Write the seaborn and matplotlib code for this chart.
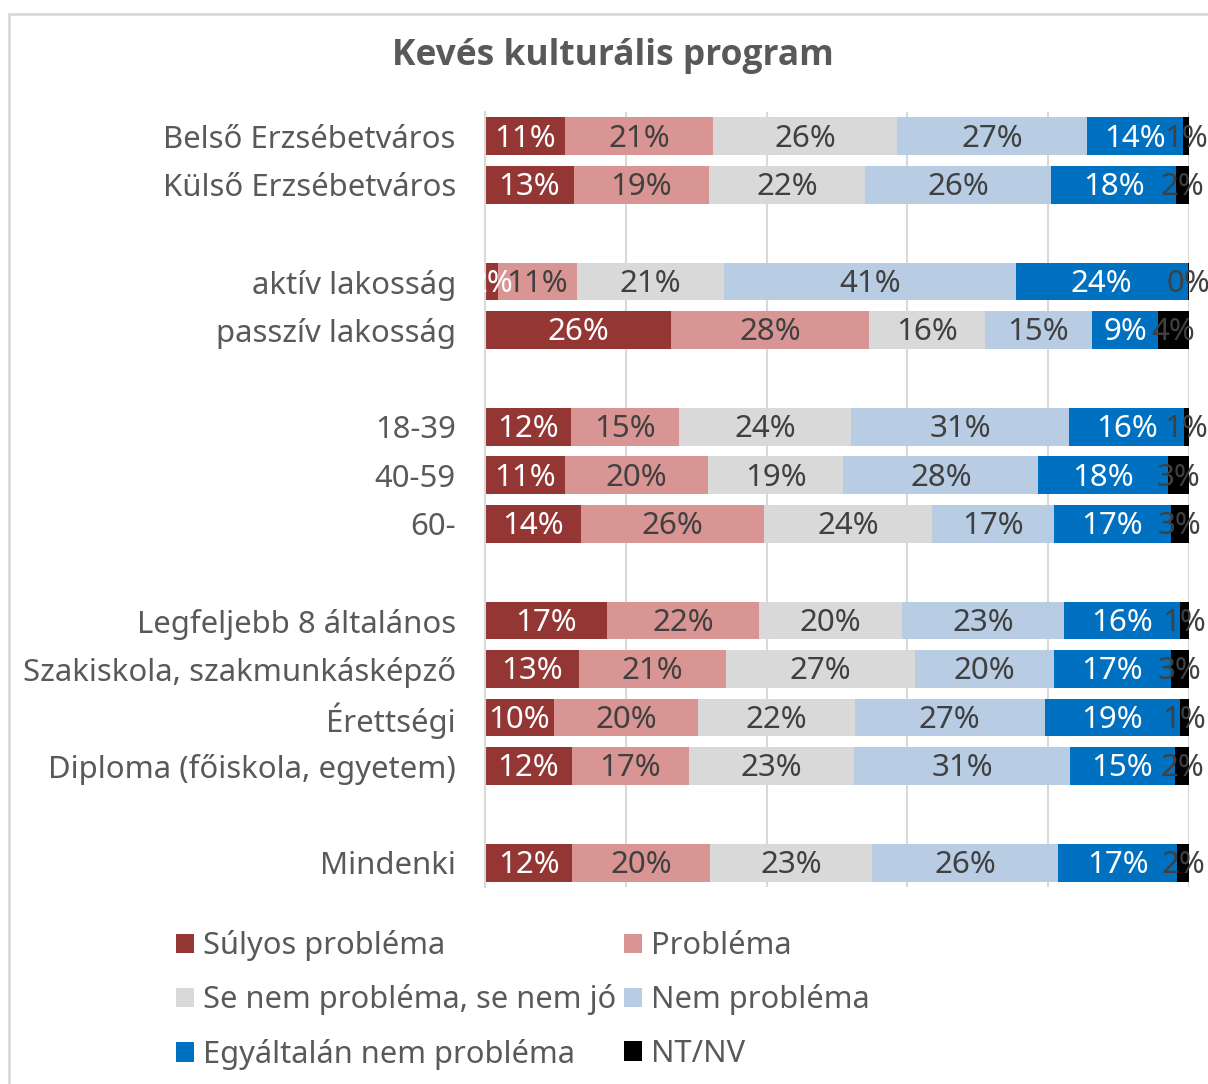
import numpy as np
import pandas as pd
import matplotlib
matplotlib.use("Agg")
import matplotlib.pyplot as plt
import seaborn as sns
from matplotlib.patches import Patch, Rectangle

# ---------------- data ----------------
categories = ["Belső Erzsébetváros", "Külső Erzsébetváros",
              "aktív lakosság", "passzív lakosság",
              "18-39", "40-59", "60-",
              "Legfeljebb 8 általános", "Szakiskola, szakmunkásképző",
              "Érettségi", "Diploma (főiskola, egyetem)",
              "Mindenki"]
series_names = ["Súlyos probléma", "Probléma", "Se nem probléma, se nem jó",
                "Nem probléma", "Egyáltalán nem probléma", "NT/NV"]

sulyos     = [11.4, 12.6, 1.8, 26.4, 12.2, 11.4, 13.6, 17.3, 13.3, 9.8, 12.3, 12.4]
problema   = [21.0, 19.2, 11.2, 28.2, 15.4, 20.3, 26.0, 21.6, 21.0, 20.5, 16.7, 19.5]
se_nem     = [26.1, 22.2, 21.0, 16.4, 24.4, 19.2, 23.9, 20.3, 26.8, 22.2, 23.4, 23.1]
nem_prob   = [27.0, 26.4, 41.4, 15.2, 31.0, 27.7, 17.3, 23.1, 19.7, 27.0, 30.7, 26.4]
egyaltalan = [13.6, 17.8, 24.4, 9.4, 16.3, 18.4, 16.6, 16.4, 16.6, 19.2, 14.9, 16.9]
ntnv       = [0.9, 1.8, 0.2, 4.4, 0.7, 3.0, 2.6, 1.3, 2.6, 1.3, 2.0, 1.7]

# display order with blank spacer rows between groups
order = ["Belső Erzsébetváros", "Külső Erzsébetváros", " ",
         "aktív lakosság", "passzív lakosság", "  ",
         "18-39", "40-59", "60-", "   ",
         "Legfeljebb 8 általános", "Szakiskola, szakmunkásképző",
         "Érettségi", "Diploma (főiskola, egyetem)", "    ",
         "Mindenki"]

colors = ["#943634", "#D99594", "#D9D9D9", "#B8CCE4", "#0070C0", "#000000"]
label_colors = ["white", "#404040", "#404040", "#404040", "white", "#404040"]

df = pd.DataFrame({"Kategória": categories,
                   series_names[0]: sulyos,
                   series_names[1]: problema,
                   series_names[2]: se_nem,
                   series_names[3]: nem_prob,
                   series_names[4]: egyaltalan,
                   series_names[5]: ntnv})
totals = df[series_names].sum(axis=1)
frac = df[series_names].div(totals, axis=0)
cum = frac.cumsum(axis=1)
for s in series_names:
    df["cum_" + s] = cum[s]

# ---------------- style ----------------
sns.set_theme(style="white")
plt.rcParams["font.family"] = ["Noto Sans", "DejaVu Sans"]
text_gray = "#595959"

W, H = 1208, 1084
fig = plt.figure(figsize=(W / 100, H / 100), dpi=100)
ax = fig.add_axes([485 / W, 1 - 887 / H, (1189 - 485) / W, (887 - 112) / H])

for s, c in reversed(list(zip(series_names, colors))):
    sns.barplot(data=df, x="cum_" + s, y="Kategória", order=order, orient="h",
                color=c, saturation=1, width=0.78, linewidth=0,
                errorbar=None, ax=ax)

# data labels
for i, cat in enumerate(categories):
    ypos = order.index(cat)
    for j, s in enumerate(series_names):
        v = df.loc[i, s]
        center = cum.loc[i, s] - frac.loc[i, s] / 2
        ax.text(center, ypos + 0.05, f"{round(v):d}%", ha="center", va="center",
                fontsize=22.5, color=label_colors[j])

ax.set_xlim(0, 1)
ax.set_ylim(len(order) - 0.5, -0.5)
ax.set_xlabel("")
ax.set_ylabel("")
ax.set_xticks([0, 0.2, 0.4, 0.6, 0.8, 1.0])
ax.set_xticklabels([])
ax.tick_params(axis="x", length=0)
ax.tick_params(axis="y", length=0, pad=21, labelsize=22.4, labelcolor=text_gray)
ax.xaxis.grid(True, color="#D9D9D9", linewidth=1.5)
ax.yaxis.grid(False)
ax.set_axisbelow(True)
for sp in ["top", "right", "bottom"]:
    ax.spines[sp].set_visible(False)
ax.spines["left"].set_color("#D9D9D9")
ax.spines["left"].set_linewidth(1.5)

# title
fig.text(613 / W, 1 - 56 / H, "Kevés kulturális program", ha="center", va="center",
         fontsize=25.5, fontweight="bold", color=text_gray,
         family=["Open Sans", "DejaVu Sans"])

# legend (column-major: col 1 then col 2)
leg_idx = [0, 2, 4, 1, 3, 5]
handles = [Patch(facecolor=colors[k], edgecolor="none") for k in leg_idx]
labels = [series_names[k] for k in leg_idx]
fig.legend(handles, labels, ncol=2, loc="upper left",
           bbox_to_anchor=(176 / W, 1 - 930 / H), frameon=False,
           fontsize=22.2, labelcolor=text_gray, handlelength=0.58, handleheight=0.58,
           handletextpad=0.3, columnspacing=0.25, labelspacing=0.76,
           borderaxespad=0, borderpad=0)

# outer chart border
fig.add_artist(Rectangle((8.5 / W, -0.02), 1.2, 1 - 13.5 / H + 0.02,
                         transform=fig.transFigure, fill=False,
                         edgecolor="#D9D9D9", linewidth=2))

fig.savefig("out.png", dpi=100)
